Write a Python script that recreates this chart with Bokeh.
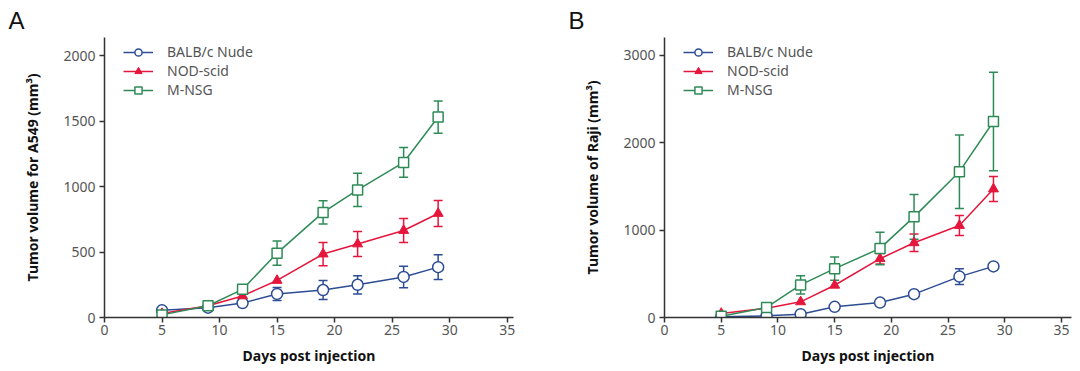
from bokeh.plotting import figure
from bokeh.layouts import row
from bokeh.models import ColumnDataSource, Whisker, TeeHead, Legend, LegendItem, Title, FixedTicker, Range1d
from bokeh.embed import file_html
from bokeh.resources import INLINE

days = [5, 9, 12, 15, 19, 22, 26, 29]

# Panel A: A549
a_balb = [55, 75, 110, 180, 210, 250, 310, 385]
a_balb_err = [0, 0, 0, 50, 72, 70, 82, 94]
a_nod = [30, 90, 165, 283, 485, 562, 665, 795]
a_nod_err = [0, 0, 0, 0, 89, 95, 91, 99]
a_nsg = [20, 90, 215, 492, 803, 975, 1185, 1532]
a_nsg_err = [0, 0, 0, 93, 89, 127, 114, 123]

# Panel B: Raji
b_balb = [10, 19, 38, 122, 171, 267, 468, 585]
b_balb_err = [0, 0, 0, 0, 0, 0, 91, 0]
b_nod = [46, 107, 179, 369, 673, 855, 1053, 1471]
b_nod_err = [0, 0, 0, 0, 60, 100, 114, 143]
b_nsg = [15, 115, 373, 559, 791, 1152, 1669, 2243]
b_nsg_err = [0, 0, 105, 133, 186, 257, 420, 563]

names = ["BALB/c Nude", "NOD-scid", "M-NSG"]
colors = ["#2c4d94", "#e5163c", "#2e8b57"]

FONT = "Noto Sans"


def make_panel(series, errs, ymax, xmax, yticks, ylabel, letter, fw, left, right):
    p = figure(frame_width=fw, frame_height=280, output_backend="svg",
               toolbar_location=None, x_range=Range1d(0, xmax), y_range=Range1d(0, ymax),
               min_border_left=left, min_border_right=right, min_border_top=37,
               min_border_bottom=46)
    p.grid.visible = False
    p.outline_line_color = None
    for ax in (p.xaxis[0], p.yaxis[0]):
        ax.axis_line_color = "#333333"
        ax.axis_line_width = 1.5
        ax.major_tick_line_color = "#333333"
        ax.major_tick_line_width = 1.5
        ax.major_tick_out = 5
        ax.major_tick_in = 0
        ax.minor_tick_line_color = None
        ax.major_label_text_font = FONT
        ax.major_label_text_font_size = "14px"
        ax.major_label_text_color = "#555555"
        ax.axis_label_text_font = FONT
        ax.axis_label_text_font_size = "14px"
        ax.axis_label_text_font_style = "bold"
        ax.axis_label_text_color = "#111111"
    p.xaxis.ticker = FixedTicker(ticks=[0, 5, 10, 15, 20, 25, 30, 35])
    p.yaxis.ticker = FixedTicker(ticks=yticks)
    p.xaxis.axis_label = "Days post injection"
    p.yaxis.axis_label = ylabel
    p.xaxis.major_label_standoff = 2
    p.yaxis.major_label_standoff = 4
    p.xaxis.axis_label_standoff = 8
    p.yaxis.axis_label_standoff = 18

    items = []
    for i, (vals, err) in enumerate(zip(series, errs)):
        c = colors[i]
        xs = [d for d, e in zip(days, err) if e > 0]
        lo = [v - e for v, e in zip(vals, err) if e > 0]
        hi = [v + e for v, e in zip(vals, err) if e > 0]
        wsrc = ColumnDataSource(dict(x=xs, lo=lo, hi=hi))
        w = Whisker(source=wsrc, base="x", lower="lo", upper="hi", line_color=c, line_width=1.5,
                    upper_head=TeeHead(size=9, line_color=c, line_width=1.5),
                    lower_head=TeeHead(size=9, line_color=c, line_width=1.5))
        p.add_layout(w)
        src = ColumnDataSource(dict(x=days, y=vals))
        ln = p.line("x", "y", source=src, line_color=c, line_width=1.5)
        if i == 0:
            mk = p.scatter("x", "y", source=src, marker="circle", size=11, fill_color="white",
                           line_color=c, line_width=1.5)
        elif i == 1:
            mk = p.scatter("x", "y", source=src, marker="triangle", size=10, fill_color=c,
                           line_color=c, line_width=1)
        else:
            mk = p.scatter("x", "y", source=src, marker="square", size=10, fill_color="white",
                           line_color=c, line_width=1.5)
        items.append(LegendItem(label=names[i], renderers=[ln, mk]))

    leg = Legend(items=items, location=(19, 218), orientation="vertical",
                 label_text_font=FONT, label_text_font_size="14px", label_text_color="#555555",
                 glyph_width=30, glyph_height=18, label_height=18, spacing=0,
                 label_standoff=14, padding=0, margin=0,
                 border_line_color=None, background_fill_alpha=0)
    p.add_layout(leg, "center")

    t = Title(text=letter, align="left", offset=-left + 8, standoff=8,
              text_font="Liberation Sans", text_font_size="24px", text_font_style="normal",
              text_color="#111111")
    p.add_layout(t, "above")
    return p


pA = make_panel([a_balb, a_nod, a_nsg], [a_balb_err, a_nod_err, a_nsg_err], 2140, 35.55,
                [0, 500, 1000, 1500, 2000], "Tumor volume for A549 (mm³)", "A", 409, 104, 47)
pB = make_panel([b_balb, b_nod, b_nsg], [b_balb_err, b_nod_err, b_nsg_err], 3205, 35.88,
                [0, 1000, 2000, 3000], "Tumor volume of Raji (mm³)", "B", 407, 104, 5)

layout = row(pA, pB)
open("out.html", "w").write(file_html(layout, INLINE))
